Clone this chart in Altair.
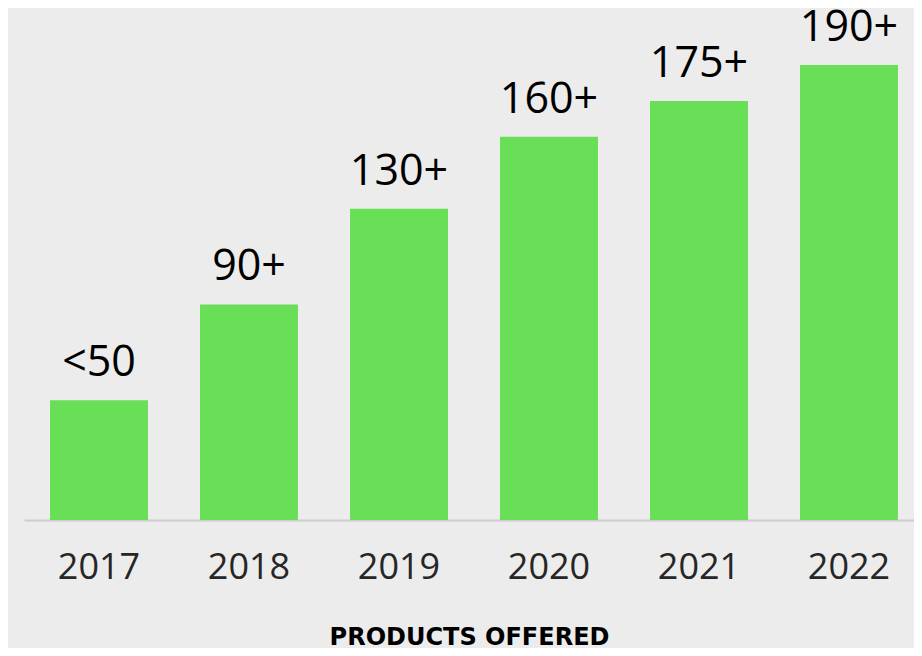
import altair as alt
import pandas as pd

years = ["2017", "2018", "2019", "2020", "2021", "2022"]
values = [50, 90, 130, 160, 175, 190]
labels = ["<50", "90+", "130+", "160+", "175+", "190+"]

df = pd.DataFrame({"year": years, "value": values, "label": labels})

x = alt.X(
    "year:N",
    sort=years,
    scale=alt.Scale(range=[0, 900], paddingInner=0.347, paddingOuter=0.1735),
    axis=alt.Axis(
        title="PRODUCTS OFFERED",
        labelAngle=0,
        labelFont="Open Sans",
        labelFontSize=36,
        labelColor="#262626",
        labelPadding=30,
        ticks=False,
        tickSize=0,
        domainColor="#cccccc",
        domainWidth=2,
        titleFont="DejaVu Sans",
        titleFontSize=24,
        titleFontWeight="bold",
        titleColor="#000000",
        titlePadding=40,
        titleX=445,
        titleAlign="center",
    ),
)
y = alt.Y("value:Q", scale=alt.Scale(domain=[0, 213.8]), axis=None)

bars = alt.Chart(df).mark_bar(color="#69df57").encode(x=x, y=y)
text = alt.Chart(df).mark_text(
    font="Open Sans", fontSize=43, color="#000000", baseline="bottom", dy=-15
).encode(x=alt.X("year:N", sort=years), y=y, text="label:N")

chart = (
    alt.layer(bars, text)
    .properties(width=890, height=512, background="#ececec",
                autosize=alt.AutoSizeParams(type="none"),
                padding={"left": 16, "top": 0, "right": 0, "bottom": 128})
    .configure_view(stroke=None)
)

chart.save("out.html", embed_options={"renderer": "svg", "actions": False})
